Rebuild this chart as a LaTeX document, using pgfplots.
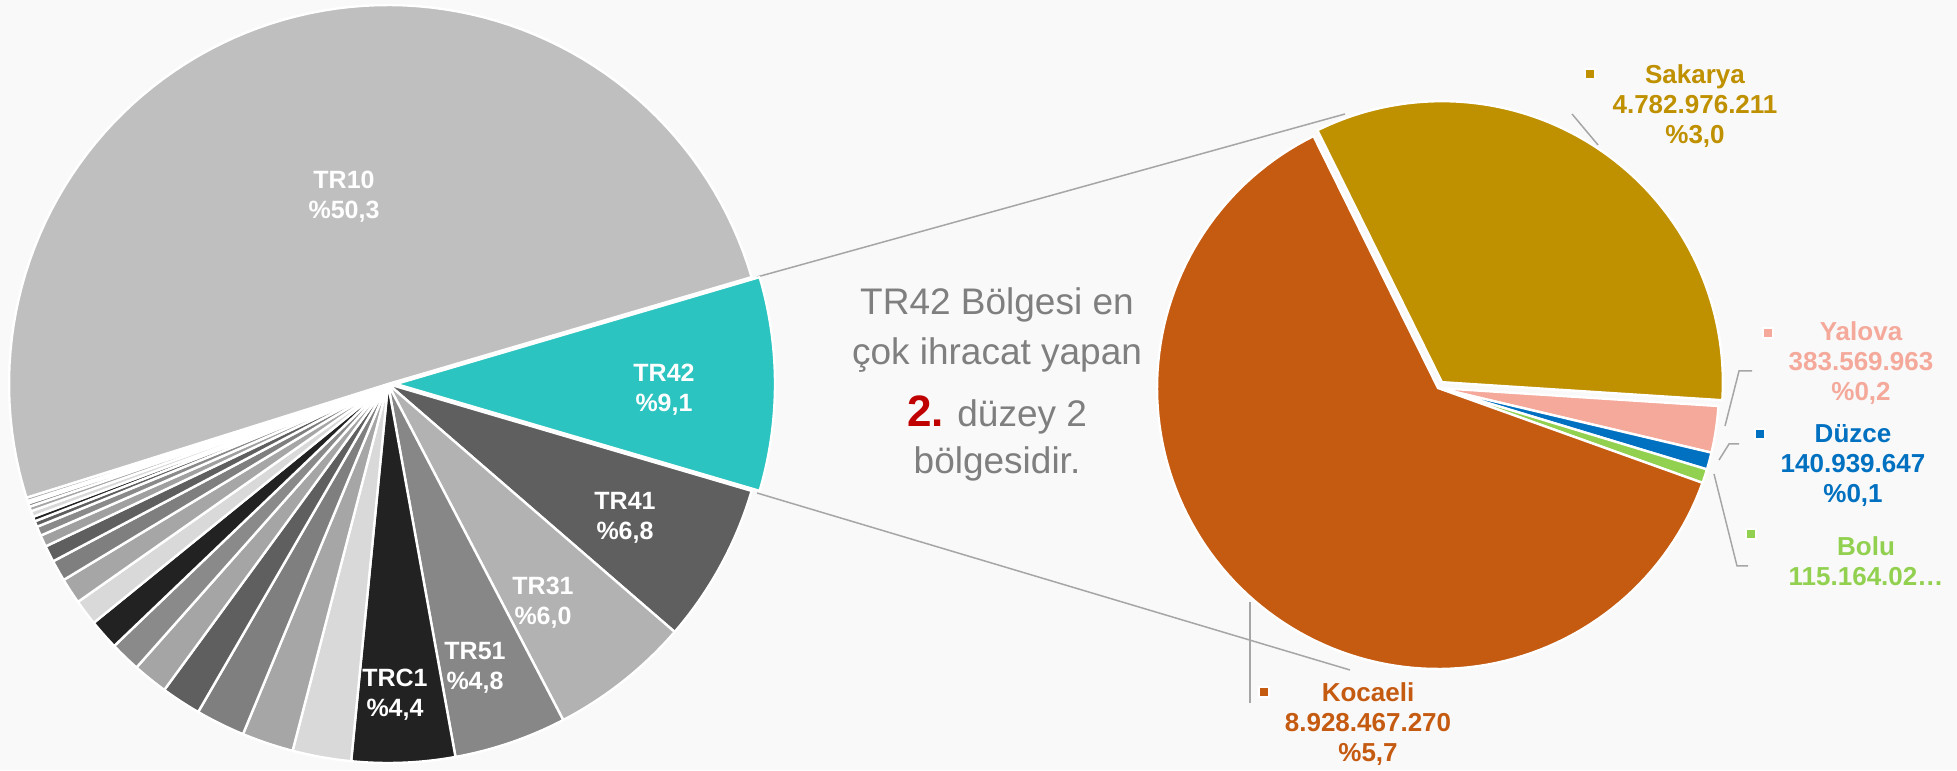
\documentclass[border=0pt]{standalone}
\usepackage{pgfplots}
\pgfplotsset{compat=1.18}
\usepackage{pgfplotstable}
\usepackage{fontspec}
\setmainfont{Liberation Sans}

\definecolor{bg}{HTML}{F9F9F9}
\definecolor{TealC}{HTML}{2CC4C0}
\definecolor{GBF}{HTML}{BFBFBF}
\definecolor{G5F}{HTML}{5F5F5F}
\definecolor{GB2}{HTML}{B2B2B2}
\definecolor{G87}{HTML}{878787}
\definecolor{G22}{HTML}{222222}
\definecolor{GD9}{HTML}{D9D9D9}
\definecolor{GA6}{HTML}{A6A6A6}
\definecolor{G7F}{HTML}{7F7F7F}
\definecolor{GA5}{HTML}{A5A5A5}
\definecolor{G8A}{HTML}{8A8A8A}
\definecolor{GA0}{HTML}{A0A0A0}
\definecolor{Sak}{HTML}{BF9000}
\definecolor{Koc}{HTML}{C55A11}
\definecolor{Yal}{HTML}{F4A99B}
\definecolor{Duz}{HTML}{0070C0}
\definecolor{Bol}{HTML}{92D050}
\definecolor{linegray}{HTML}{A6A6A6}
\definecolor{txtgray}{HTML}{7F7F7F}
\definecolor{red2}{HTML}{C00000}

% level-2 regions, share of exports (%), clockwise from TR42
\pgfplotstableread{
v c ex
9.1 TealC 8
6.8 G5F 0
6.0 GB2 0
4.8 G87 0
4.4 G22 0
2.5 GD9 0
2.2 GA6 0
2.1 G7F 0
1.7 G5F 0
1.5 GA5 0
1.3 G8A 0
1.3 G22 0
1.1 GD9 0
1.1 GA6 0
0.9 G7F 0
0.7 G5F 0
0.5 GA0 0
0.4 G8A 0
0.25 G5F 0
0.2 G22 0
0.25 GD9 0
0.2 GA6 0
0.15 G7F 0
0.1 G5F 0
0.15 GA6 0
50.3 GBF 0
}\lefttbl

% TR42 provinces, exports (million), clockwise from Sakarya
\pgfplotstableread{
v c ex
4782.976211 Sak 7
383.569963 Yal 0
140.939647 Duz 0
115.16402 Bol 0
8928.46727 Koc 0
}\righttbl

\begin{document}
\begin{tikzpicture}
\begin{axis}[
  x=0.5pt, y=0.5pt,
  xmin=0, xmax=1957, ymin=0, ymax=770,
  hide axis, clip=false,
]
\addplot[fill=bg, draw=none] coordinates {(0,0) (1957,0) (1957,770) (0,770)} -- cycle;

% connector lines
\addplot[linegray, line width=0.75pt] coordinates {(757,493) (1345,656)};
\addplot[linegray, line width=0.75pt] coordinates {(757,277) (1350,100)};

% left pie
\xdef\angcur{16.38}
\pgfplotsinvokeforeach{0,...,25}{
  \pgfplotstablegetelem{#1}{v}\of\lefttbl \let\slval\pgfplotsretval
  \pgfplotstablegetelem{#1}{c}\of\lefttbl \let\slcol\pgfplotsretval
  \pgfplotstablegetelem{#1}{ex}\of\lefttbl \let\slex\pgfplotsretval
  \pgfmathsetmacro{\aend}{\angcur-3.6*\slval}
  \pgfmathsetmacro{\amid}{(\angcur+\aend)/2}
  \pgfmathsetmacro{\cx}{388+\slex*cos(\amid)}
  \pgfmathsetmacro{\cy}{386+\slex*sin(\amid)}
  \edef\temp{\noexpand\addplot[fill=\slcol, draw=white, line width=1.2pt, line join=round, domain=\aend:\angcur, samples=90] ({\cx+379*cos(x)},{\cy+379*sin(x)}) -- (axis cs:\cx,\cy) -- cycle;}
  \temp
  \xdef\angcur{\aend}
}

% right pie
\xdef\tot{0}
\pgfplotsinvokeforeach{0,...,4}{
  \pgfplotstablegetelem{#1}{v}\of\righttbl
  \pgfmathsetmacro{\tmp}{\tot+\pgfplotsretval}
  \xdef\tot{\tmp}
}
\xdef\angcur{116.3}
\pgfplotsinvokeforeach{0,...,4}{
  \pgfplotstablegetelem{#1}{v}\of\righttbl \let\slval\pgfplotsretval
  \pgfplotstablegetelem{#1}{c}\of\righttbl \let\slcol\pgfplotsretval
  \pgfplotstablegetelem{#1}{ex}\of\righttbl \let\slex\pgfplotsretval
  \pgfmathsetmacro{\aend}{\angcur-\slval/\tot*360}
  \pgfmathsetmacro{\amid}{(\angcur+\aend)/2}
  \pgfmathsetmacro{\cx}{1438+\slex*cos(\amid)}
  \pgfmathsetmacro{\cy}{382+\slex*sin(\amid)}
  \edef\temp{\noexpand\addplot[fill=\slcol, draw=white, line width=1.2pt, line join=round, domain=\aend:\angcur, samples=120] ({\cx+281*cos(x)},{\cy+281*sin(x)}) -- (axis cs:\cx,\cy) -- cycle;}
  \temp
  \xdef\angcur{\aend}
}

% leader lines
\addplot[linegray, line width=0.75pt] coordinates {(1572,656) (1598,625)};
\addplot[linegray, line width=0.75pt] coordinates {(1752,399) (1739,399) (1725,344)};
\addplot[linegray, line width=0.75pt] coordinates {(1739,326) (1729,326) (1719,310)};
\addplot[linegray, line width=0.75pt] coordinates {(1714,296) (1737,204) (1748,204)};
\addplot[linegray, line width=0.75pt] coordinates {(1250,168) (1250,67)};

% legend-style markers
\addplot[only marks, mark=square*, mark size=2.6pt, Sak, mark options={draw=white, line width=0.8pt}] coordinates {(1590,696)};
\addplot[only marks, mark=square*, mark size=2.6pt, Yal, mark options={draw=white, line width=0.8pt}] coordinates {(1768,437)};
\addplot[only marks, mark=square*, mark size=2.6pt, Duz, mark options={draw=white, line width=0.8pt}] coordinates {(1760,336)};
\addplot[only marks, mark=square*, mark size=2.6pt, Bol, mark options={draw=white, line width=0.8pt}] coordinates {(1751,236)};
\addplot[only marks, mark=square*, mark size=2.6pt, Koc, mark options={draw=white, line width=0.8pt}] coordinates {(1264,78)};

% left labels
\tikzset{lab/.style={align=center, font=\bfseries\fontsize{12.5}{15}\selectfont, inner sep=0pt},
         rlab/.style={align=center, font=\bfseries\fontsize{13}{15}\selectfont, inner sep=0pt}}
\node[lab, text=white] at (axis cs:344,573) {TR10\\\%50,3};
\node[lab, text=white] at (axis cs:664,380) {TR42\\\%9,1};
\node[lab, text=white] at (axis cs:625,252) {TR41\\\%6,8};
\node[lab, text=white] at (axis cs:543,167) {TR31\\\%6,0};
\node[lab, text=white] at (axis cs:475,102) {TR51\\\%4,8};
\node[lab, text=white] at (axis cs:395,75) {TRC1\\\%4,4};

% right labels
\node[rlab, text=Sak] at (axis cs:1695,664) {Sakarya\\4.782.976.211\\\%3,0};
\node[rlab, text=Yal] at (axis cs:1861,407) {Yalova\\383.569.963\\\%0,2};
\node[rlab, text=Duz] at (axis cs:1853,304) {Düzce\\140.939.647\\\%0,1};
\node[rlab, text=Bol] at (axis cs:1866,209) {Bolu\\115.164.02…};
\node[rlab, text=Koc] at (axis cs:1368,46) {Kocaeli\\8.928.467.270\\\%5,7};

% centre text
\tikzset{ctxt/.style={anchor=base, text=txtgray, font=\fontsize{18.5}{22}\selectfont, inner sep=0pt}}
\node[ctxt] at (axis cs:997,455) {TR42 Bölgesi en};
\node[ctxt] at (axis cs:997,405) {çok ihracat yapan};
\node[ctxt] at (axis cs:997,343) {{\color{red2}\bfseries\fontsize{22}{22}\selectfont 2.} düzey 2};
\node[ctxt] at (axis cs:997,296) {bölgesidir.};
\end{axis}
\end{tikzpicture}
\end{document}
